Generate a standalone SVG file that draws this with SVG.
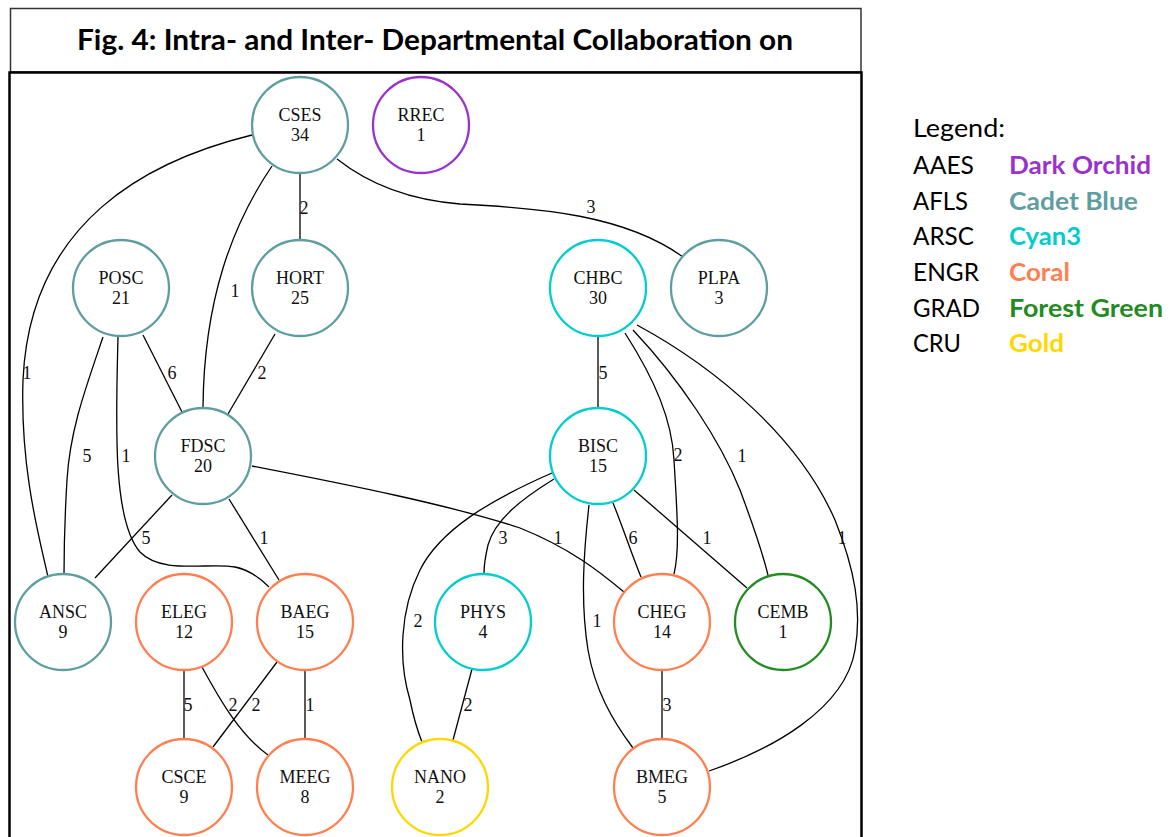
<svg xmlns="http://www.w3.org/2000/svg" width="1170" height="837" viewBox="0 0 1170 837">
<style>
.n{fill:#fff;stroke-width:2.3}
.nt{font-family:"Liberation Serif","Times New Roman",serif;font-size:18px;fill:#111;text-anchor:middle}
.e{fill:none;stroke:#000;stroke-width:1.3}
.el{font-family:"Liberation Serif","Times New Roman",serif;font-size:18px;fill:#111;text-anchor:middle}
.ab{stroke:#9932CC}.cb{stroke:#5F9EA0}.cy{stroke:#00CDCD}.co{stroke:#FF7F50}.fg{stroke:#228B22}.go{stroke:#FFD700}
.lg{font-family:Lato,"Open Sans",sans-serif;font-size:25px;fill:#000}
.lc{font-family:Lato,"Open Sans",sans-serif;font-size:25px;font-weight:bold}
</style>
<rect width="1170" height="837" fill="#fff"/>
<g id="frame">
<rect x="10.5" y="8.5" width="850.5" height="63.5" fill="none" stroke="#333" stroke-width="1.5"/>
<path d="M9.5,837 V72.5 H861.5 V837" fill="none" stroke="#000" stroke-width="2.5"/>
<text x="435" y="50" font-family="Lato,'Open Sans',sans-serif" font-size="29" font-weight="bold" text-anchor="middle" textLength="716" lengthAdjust="spacingAndGlyphs">Fig. 4: Intra- and Inter- Departmental Collaboration on</text>
</g>
<g id="connectors">
<path class="e" d="M252,135 C150,160 30,220 23,380 C20,470 40,540 48,577"/>
<path class="e" d="M272,166 C232,225 204,300 203,407"/>
<path class="e" d="M300,173 V240"/>
<path class="e" d="M337,159 C370,185 410,200 460,204 C540,208 625,215 683,257"/>
<path class="e" d="M143,335 L182,412"/>
<path class="e" d="M275,334 L228,414"/>
<path class="e" d="M103,337 C85,390 70,430 67,480 C64,530 64,555 64,575"/>
<path class="e" d="M118,337 C116,420 112,520 140,552 C162,575 210,562 235,567 C250,570 262,580 269,587"/>
<path class="e" d="M172,495 L95,578"/>
<path class="e" d="M229,499 L279,580"/>
<path class="e" d="M252,466 C350,485 450,505 520,528 C570,548 600,572 624,592"/>
<path class="e" d="M598,337 V407"/>
<path class="e" d="M625,333 C655,380 672,420 674,460 C677,510 680,550 674,574"/>
<path class="e" d="M633,330 C680,380 720,440 740,490 C755,530 763,555 768,575"/>
<path class="e" d="M637,325 C720,370 800,440 835,520 C855,570 862,610 855,650 C845,710 770,750 709,771"/>
<path class="e" d="M552,473 C490,500 440,530 420,570 C400,610 398,660 410,700 C414,720 418,732 422,742"/>
<path class="e" d="M554,479 C520,500 495,520 488,545 C485,558 484,566 484,573"/>
<path class="e" d="M589,505 C584,550 580,600 588,650 C595,690 612,720 633,748"/>
<path class="e" d="M613,503 C622,525 632,555 641,577"/>
<path class="e" d="M634,490 L747,588"/>
<path class="e" d="M184,671 V738"/>
<path class="e" d="M202,667 C220,700 240,735 268,755"/>
<path class="e" d="M277,662 L213,747"/>
<path class="e" d="M305,671 V738"/>
<path class="e" d="M472,669 L453,740"/>
<path class="e" d="M662,671 V738"/>
<text class="el" x="27" y="379">1</text>
<text class="el" x="235" y="297">1</text>
<text class="el" x="304" y="214">2</text>
<text class="el" x="591" y="213">3</text>
<text class="el" x="172" y="379">6</text>
<text class="el" x="262" y="379">2</text>
<text class="el" x="87" y="462">5</text>
<text class="el" x="126" y="462">1</text>
<text class="el" x="146" y="544">5</text>
<text class="el" x="264" y="544">1</text>
<text class="el" x="558" y="544">1</text>
<text class="el" x="603" y="379">5</text>
<text class="el" x="678" y="461">2</text>
<text class="el" x="742" y="462">1</text>
<text class="el" x="842" y="544">1</text>
<text class="el" x="418" y="627">2</text>
<text class="el" x="503" y="544">3</text>
<text class="el" x="597" y="627">1</text>
<text class="el" x="633" y="544">6</text>
<text class="el" x="707" y="544">1</text>
<text class="el" x="188" y="711">5</text>
<text class="el" x="233" y="711">2</text>
<text class="el" x="256" y="711">2</text>
<text class="el" x="310" y="711">1</text>
<text class="el" x="468" y="711">2</text>
<text class="el" x="667" y="711">3</text>
</g>
<g id="CSES"><circle class="n cb" cx="300" cy="125" r="48"/><text class="nt" x="300" y="120.5">CSES</text><text class="nt" x="300" y="140.5">34</text></g>
<g id="RREC"><circle class="n ab" cx="421" cy="125" r="48"/><text class="nt" x="421" y="120.5">RREC</text><text class="nt" x="421" y="140.5">1</text></g>
<g id="POSC"><circle class="n cb" cx="121" cy="288" r="48"/><text class="nt" x="121" y="283.5">POSC</text><text class="nt" x="121" y="303.5">21</text></g>
<g id="HORT"><circle class="n cb" cx="300" cy="288" r="48"/><text class="nt" x="300" y="283.5">HORT</text><text class="nt" x="300" y="303.5">25</text></g>
<g id="CHBC"><circle class="n cy" cx="598" cy="288" r="48"/><text class="nt" x="598" y="283.5">CHBC</text><text class="nt" x="598" y="303.5">30</text></g>
<g id="PLPA"><circle class="n cb" cx="719" cy="288" r="48"/><text class="nt" x="719" y="283.5">PLPA</text><text class="nt" x="719" y="303.5">3</text></g>
<g id="FDSC"><circle class="n cb" cx="203" cy="456" r="48"/><text class="nt" x="203" y="451.5">FDSC</text><text class="nt" x="203" y="471.5">20</text></g>
<g id="BISC"><circle class="n cy" cx="598" cy="456" r="48"/><text class="nt" x="598" y="451.5">BISC</text><text class="nt" x="598" y="471.5">15</text></g>
<g id="ANSC"><circle class="n cb" cx="63" cy="622" r="48"/><text class="nt" x="63" y="617.5">ANSC</text><text class="nt" x="63" y="637.5">9</text></g>
<g id="ELEG"><circle class="n co" cx="184" cy="622" r="48"/><text class="nt" x="184" y="617.5">ELEG</text><text class="nt" x="184" y="637.5">12</text></g>
<g id="BAEG"><circle class="n co" cx="305" cy="622" r="48"/><text class="nt" x="305" y="617.5">BAEG</text><text class="nt" x="305" y="637.5">15</text></g>
<g id="PHYS"><circle class="n cy" cx="483" cy="622" r="48"/><text class="nt" x="483" y="617.5">PHYS</text><text class="nt" x="483" y="637.5">4</text></g>
<g id="CHEG"><circle class="n co" cx="662" cy="622" r="48"/><text class="nt" x="662" y="617.5">CHEG</text><text class="nt" x="662" y="637.5">14</text></g>
<g id="CEMB"><circle class="n fg" cx="783" cy="622" r="48"/><text class="nt" x="783" y="617.5">CEMB</text><text class="nt" x="783" y="637.5">1</text></g>
<g id="CSCE"><circle class="n co" cx="184" cy="787" r="48"/><text class="nt" x="184" y="782.5">CSCE</text><text class="nt" x="184" y="802.5">9</text></g>
<g id="MEEG"><circle class="n co" cx="305" cy="787" r="48"/><text class="nt" x="305" y="782.5">MEEG</text><text class="nt" x="305" y="802.5">8</text></g>
<g id="NANO"><circle class="n go" cx="440" cy="787" r="48"/><text class="nt" x="440" y="782.5">NANO</text><text class="nt" x="440" y="802.5">2</text></g>
<g id="BMEG"><circle class="n co" cx="662" cy="787" r="48"/><text class="nt" x="662" y="782.5">BMEG</text><text class="nt" x="662" y="802.5">5</text></g>
<g id="legend">
<text class="lg" x="913" y="137" textLength="92" lengthAdjust="spacingAndGlyphs">Legend:</text>
<text class="lg" x="913" y="174" textLength="61" lengthAdjust="spacingAndGlyphs">AAES</text>
<text class="lg" x="913" y="210" textLength="55" lengthAdjust="spacingAndGlyphs">AFLS</text>
<text class="lg" x="913" y="245" textLength="61" lengthAdjust="spacingAndGlyphs">ARSC</text>
<text class="lg" x="913" y="281" textLength="66" lengthAdjust="spacingAndGlyphs">ENGR</text>
<text class="lg" x="913" y="317" textLength="67" lengthAdjust="spacingAndGlyphs">GRAD</text>
<text class="lg" x="913" y="352" textLength="48" lengthAdjust="spacingAndGlyphs">CRU</text>
<text class="lc" x="1009" y="174" fill="#9932CC" textLength="142" lengthAdjust="spacingAndGlyphs">Dark Orchid</text>
<text class="lc" x="1009" y="210" fill="#5F9EA0" textLength="129" lengthAdjust="spacingAndGlyphs">Cadet Blue</text>
<text class="lc" x="1009" y="245" fill="#00CDCD" textLength="72" lengthAdjust="spacingAndGlyphs">Cyan3</text>
<text class="lc" x="1009" y="281" fill="#FF7F50" textLength="61" lengthAdjust="spacingAndGlyphs">Coral</text>
<text class="lc" x="1009" y="317" fill="#228B22" textLength="154" lengthAdjust="spacingAndGlyphs">Forest Green</text>
<text class="lc" x="1009" y="352" fill="#FFD700" textLength="55" lengthAdjust="spacingAndGlyphs">Gold</text>
</g>
</svg>
